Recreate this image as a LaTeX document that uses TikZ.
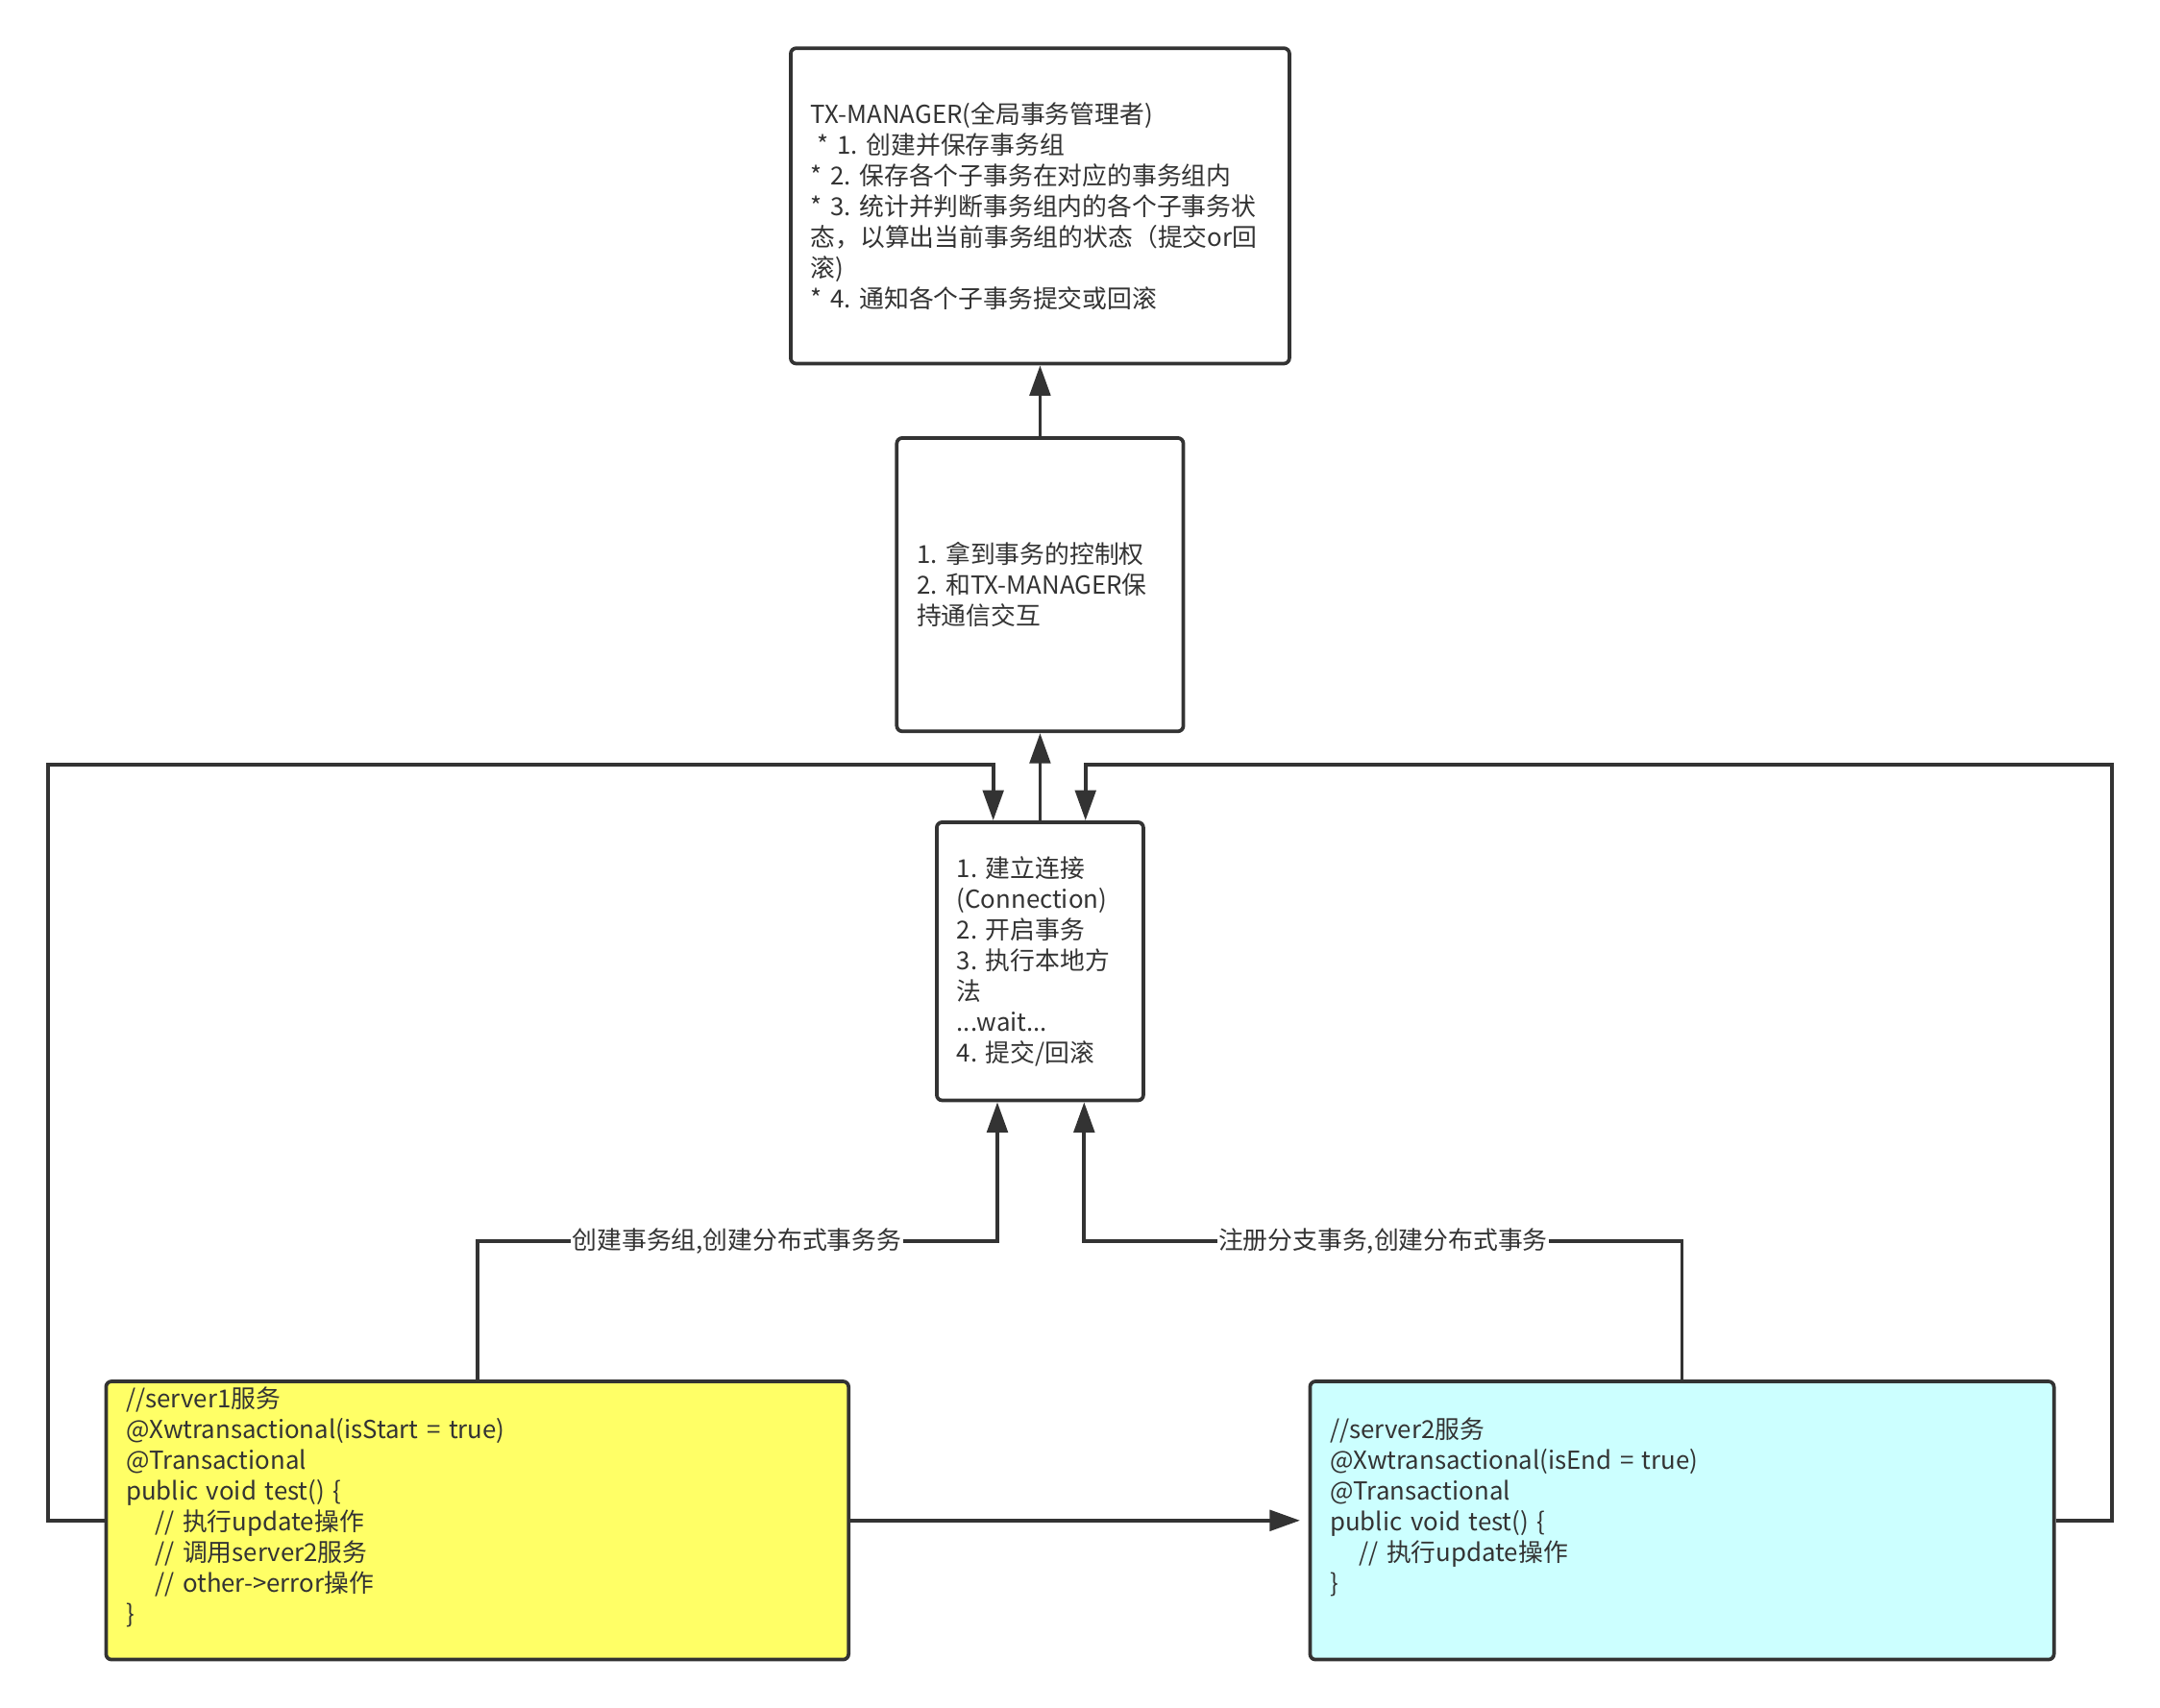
\documentclass[tikz,border=0pt]{standalone}
\usepackage{fontspec}
\setmainfont{Noto Sans CJK SC}
\usetikzlibrary{arrows.meta}
\definecolor{linec}{HTML}{333333}
\definecolor{yel}{HTML}{FFFF66}
\definecolor{cya}{HTML}{CCFFFF}
\frenchspacing
\begin{document}
\begin{tikzpicture}[x=1pt,y=-1pt,
  box/.style={draw=linec, line width=2.6pt, rounded corners=4pt, inner xsep=14.5pt, inner ysep=0pt, align=left, anchor=center, font=\fontsize{18}{22.3}\selectfont\frenchspacing, text=linec},
  arr/.style={draw=linec, line width=2.6pt, -{Triangle[length=22pt,width=15pt]}},
  lab/.style={fill=white, inner sep=1pt, font=\fontsize{18}{22}\selectfont, text=linec}]
\useasboundingbox (0,0) rectangle (1568,1240);
\fill[white] (0,0) rectangle (1568,1240);

\node[box, text width=333pt, minimum height=229pt] (tx) at (755,149.5) {TX-MANAGER(全局事务管理者)\\
\hspace*{5pt}* 1. 创建并保存事务组\\
{}* 2. 保存各个子事务在对应的事务组内\\
{}* 3. 统计并判断事务组内的各个子事务状\\
态，以算出当前事务组的状态（提交or回\\
滚)\\
{}* 4. 通知各个子事务提交或回滚};

\node[box, text width=179pt, minimum height=213pt] (mid) at (755,424.5) {1. 拿到事务的控制权\\
2. 和TX-MANAGER保\\
持通信交互};

\node[box, text width=121pt, minimum height=202pt] (conn) at (755,698) {1. 建立连接\\
(Connection)\\
2. 开启事务\\
3. 执行本地方\\
法\\
...wait...\\
4. 提交/回滚};

\node[box, fill=yel, text width=510pt, minimum height=202pt] (yel) at (346.5,1104) {//server1服务\\
@Xwtransactional(isStart = true)\\
@Transactional\\
public void test() \{\\
\hspace*{21pt}// 执行update操作\\
\hspace*{21pt}// 调用server2服务\\
\hspace*{21pt}// other->error操作\\
\}\\
\mbox{}};

\node[box, fill=cya, text width=511pt, minimum height=202pt] (cya) at (1221,1104) {//server2服务\\
@Xwtransactional(isEnd = true)\\
@Transactional\\
public void test() \{\\
\hspace*{21pt}// 执行update操作\\
\}\\
\mbox{}};

\draw[arr] (mid.north) -- (tx.south);
\draw[arr] (conn.north) -- (mid.south);
\draw[arr] (yel.west) -- (35,1104) -- (35,555) -| ([xshift=-34pt]conn.north);
\draw[arr] (cya.east) -- (1533,1104) -- (1533,555) -| ([xshift=33pt]conn.north);
\draw[arr] (yel.north) -- (346.5,901) -| ([xshift=-31pt]conn.south);
\draw[arr] (cya.north) -- (1221,901) -| ([xshift=32pt]conn.south);
\draw[arr, shorten >=6pt] (yel.east) -- (cya.west);

\node[lab] (l1) at (535,901) {创建事务组,创建分布式事务务};
\node[lab] (l2) at (1004,901) {注册分支事务,创建分布式事务};
\end{tikzpicture}
\end{document}
